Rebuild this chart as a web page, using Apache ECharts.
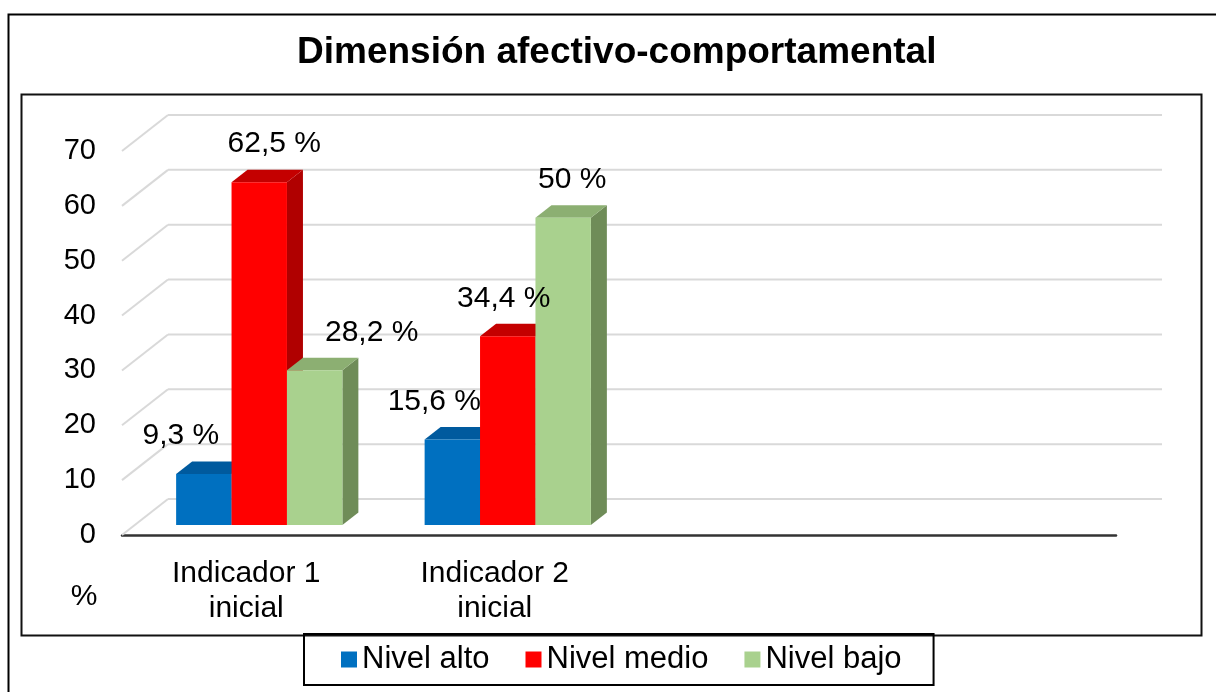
<!DOCTYPE html>
<html><head><meta charset="utf-8">
<script src="https://cdn.jsdelivr.net/npm/echarts@6/dist/echarts.min.js"></script>
<style>html,body{margin:0;padding:0;background:#fff}#c{width:1216px;height:692px}</style>
</head><body><div id="c"></div>
<script>
// ---------- data ----------
const titleText = 'Dimensión afectivo-comportamental';
const categories = ['Indicador 1\ninicial', 'Indicador 2\ninicial', '', ''];
const seriesNames = ['Nivel alto', 'Nivel medio', 'Nivel bajo'];
const nivelAlto  = [9.3, 15.6];
const nivelMedio = [62.5, 34.4];
const nivelBajo  = [28.2, 56];
const labelsAlto  = ['9,3 %', '15,6 %'];
const labelsMedio = ['62,5 %', '34,4 %'];
const labelsBajo  = ['28,2 %', '50 %'];
const yTicks = [0, 10, 20, 30, 40, 50, 60, 70];
const yName = '%';

// ---------- styling ----------
const FONT = '"Liberation Sans", Arial, sans-serif';
const WALL_DX = 46, WALL_DY = 36;
const BAR_SHIFT_X = 13, BAR_SHIFT_Y = 10;
const BAR_DX = 16, BAR_DY = 12.5;
const BAR_FRAC = 0.223;
const palette = [
  {front: '#0070C0', top: '#005A9E', side: '#00559A'},
  {front: '#FF0000', top: '#C40000', side: '#B00000'},
  {front: '#A9D18E', top: '#8CAF72', side: '#6F8C58'}
];
const labelNudgeX = [[-31, -26], [7, -12], [49, 1]];

function wallRender(params, api) {
  const v = api.value(1);
  const p = api.coord([0, v]);
  const bw = api.size([1, 0])[0];
  const left = p[0] - bw / 2;
  const right = api.coord([categories.length - 1, v])[0] + bw / 2;
  const y = p[1];
  const st = {stroke: '#D9D9D9', lineWidth: 2};
  return {type: 'group', children: [
    {type: 'line', shape: {x1: left, y1: y, x2: left + WALL_DX, y2: y - WALL_DY}, style: st},
    {type: 'line', shape: {x1: left + WALL_DX, y1: y - WALL_DY, x2: right + WALL_DX, y2: y - WALL_DY}, style: st}
  ]};
}

function barRender(k, labels) {
  return function (params, api) {
    const i = api.value(0), v = api.value(1);
    const top = api.coord([i, v]);
    const base = api.coord([i, 0]);
    const bw = api.size([1, 0])[0];
    const w = bw * BAR_FRAC;
    const x0 = top[0] - 1.5 * w + k * w + BAR_SHIFT_X;
    const x1 = x0 + w;
    const yT = top[1] - BAR_SHIFT_Y;
    const yB = base[1] - BAR_SHIFT_Y;
    const c = palette[k];
    return {type: 'group', children: [
      {type: 'polygon', shape: {points: [[x1, yT], [x1 + BAR_DX, yT - BAR_DY], [x1 + BAR_DX, yB - BAR_DY], [x1, yB]]}, style: {fill: c.side}},
      {type: 'polygon', shape: {points: [[x0, yT], [x1, yT], [x1 + BAR_DX, yT - BAR_DY], [x0 + BAR_DX, yT - BAR_DY]]}, style: {fill: c.top}},
      {type: 'rect', shape: {x: x0, y: yT, width: w, height: yB - yT}, style: {fill: c.front}},
      {type: 'text', z2: 100, x: (x0 + x1) / 2 + BAR_DX / 2 + labelNudgeX[k][params.dataIndex], y: yT - 38,
        style: {text: labels[params.dataIndex], fill: '#000', fontSize: 30, fontFamily: FONT, align: 'center', verticalAlign: 'middle'}}
    ]};
  };
}

const valueSets = [nivelAlto, nivelMedio, nivelBajo];
const labelSets = [labelsAlto, labelsMedio, labelsBajo];

const chart = echarts.init(document.getElementById('c'), null, {renderer: 'canvas'});
chart.setOption({
  backgroundColor: '#fff',
  animation: false,
  title: {
    text: titleText, left: 297, top: 34, padding: 0,
    textStyle: {fontSize: 37, fontWeight: 'bold', fontFamily: FONT, color: '#000', lineHeight: 38}
  },
  legend: {
    data: seriesNames, left: 304, top: 634, orient: 'horizontal',
    padding: [10, 32, 10, 37], borderColor: '#000', borderWidth: 2,
    itemWidth: 16, itemHeight: 16, itemGap: 36, icon: 'rect',
    textStyle: {fontSize: 31, fontFamily: FONT, color: '#000', lineHeight: 30}
  },
  grid: {left: 122, right: 100, top: 151, bottom: 157},
  xAxis: {
    type: 'category', data: categories,
    axisLine: {show: true, lineStyle: {color: '#333', width: 2.5}},
    axisTick: {show: false}, splitLine: {show: false},
    axisLabel: {interval: 0, fontSize: 30, lineHeight: 35, margin: 21, color: '#000', fontFamily: FONT}
  },
  yAxis: {
    type: 'value', min: 0, max: 70, interval: 10,
    axisLine: {show: false}, axisTick: {show: false}, splitLine: {show: false},
    axisLabel: {fontSize: 29, margin: 26, color: '#000', fontFamily: FONT, padding: [8, 0, 0, 0]}
  },
  graphic: [
    {type: 'rect', left: 6, top: 12, shape: {width: 1300, height: 800}, style: {fill: 'none', stroke: '#000', lineWidth: 2}, z: 0},
    {type: 'rect', left: 19, top: 92, shape: {width: 1180, height: 541}, style: {fill: 'none', stroke: '#111', lineWidth: 2}, z: 0},
    {type: 'text', x: 84, y: 597, style: {text: yName, fontSize: 30, fontFamily: FONT, fill: '#000', align: 'center', verticalAlign: 'middle'}}
  ],
  series: [
    {type: 'custom', name: 'wall', z: 1, clip: false, silent: true,
      data: yTicks.map(v => [0, v]), renderItem: wallRender}
  ].concat(seriesNames.map((name, k) => ({
    type: 'custom', name: name, z: 2, clip: false,
    itemStyle: {color: palette[k].front},
    data: valueSets[k].map((v, i) => [i, v]),
    renderItem: barRender(k, labelSets[k])
  })))
});
</script></body></html>
